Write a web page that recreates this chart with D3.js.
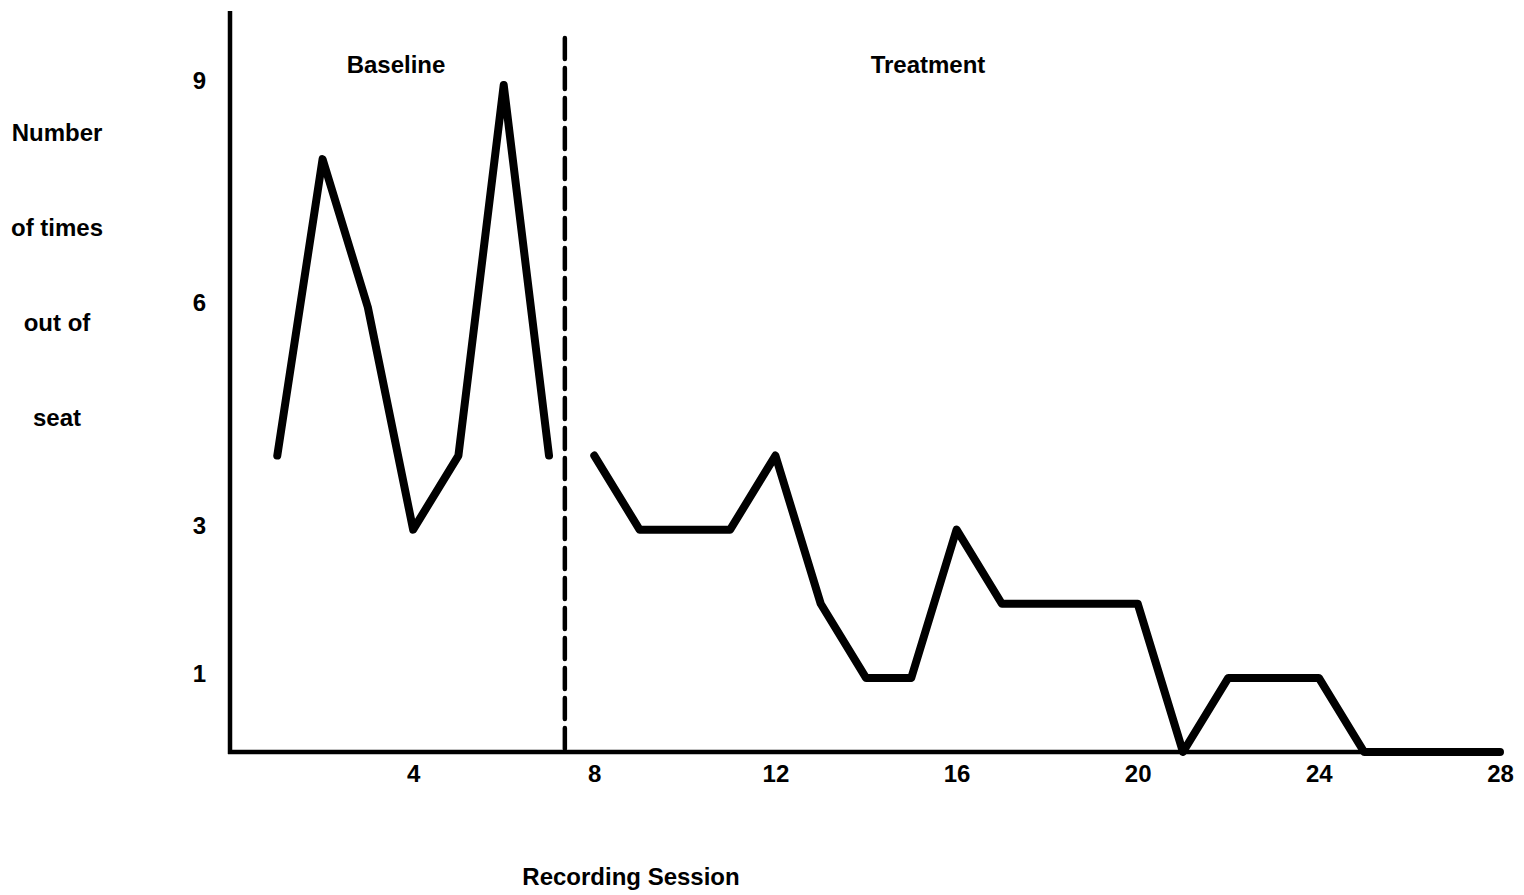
<!DOCTYPE html>
<html>
<head>
<meta charset="utf-8">
<script src="https://cdn.jsdelivr.net/npm/d3@7"></script>
<style>
  body { margin: 0; background: #fff; }
  text { font-family: "Liberation Sans", Arial, Helvetica, sans-serif; font-weight: bold; fill: #000; }
</style>
</head>
<body>
<div id="chart"></div>
<script>
// sessions and counts
var baselineSessions = [1, 2, 3, 4, 5, 6, 7];
var baselineValues   = [4, 8, 6, 3, 4, 9, 4];
var treatmentSessions = [8, 9, 10, 11, 12, 13, 14, 15, 16, 17, 18, 19, 20, 21, 22, 23, 24, 25, 26, 27, 28];
var treatmentValues   = [4, 3, 3, 3, 4, 2, 1, 1, 3, 2, 2, 2, 2, 0, 1, 1, 1, 0, 0, 0, 0];
var xTicks = [4, 8, 12, 16, 20, 24, 28];
var yTicks = [1, 3, 6, 9];
var phaseChange = 7.35;
var yLabelLines = ["Number", "of times", "out of", "seat"];

var width = 1524, height = 895;
var fontSize = "24px";

var svg = d3.select("#chart").append("svg")
  .attr("width", width)
  .attr("height", height);

var x = d3.scaleLinear().domain([0, 28]).range([232, 1500]);
var y = d3.scaleLinear().domain([0, 9]).range([752, 85]);

// axes (no tick marks, only labels)
var xAxis = d3.axisBottom(x).tickValues(xTicks).tickSize(0).tickPadding(13);
var yAxis = d3.axisLeft(y).tickValues(yTicks).tickSize(0).tickPadding(26);

svg.append("g")
  .attr("class", "x axis")
  .attr("transform", "translate(0," + y(0) + ")")
  .call(xAxis)
  .call(function(g) { g.select(".domain").remove(); })
  .selectAll("text")
  .style("font-size", fontSize)
  .style("font-family", "Liberation Sans, Arial, sans-serif")
  .style("font-weight", "bold");

svg.append("g")
  .attr("class", "y axis")
  .attr("transform", "translate(" + x(0) + ",0)")
  .call(yAxis)
  .call(function(g) { g.select(".domain").remove(); })
  .selectAll("text")
  .attr("dy", "0.15em")
  .style("font-size", fontSize)
  .style("font-family", "Liberation Sans, Arial, sans-serif")
  .style("font-weight", "bold");

// axis lines
svg.append("line")
  .attr("x1", x(0) - 2).attr("x2", x(0) - 2)
  .attr("y1", y(10)).attr("y2", y(0) + 2)
  .attr("stroke", "#000").attr("stroke-width", 4.5);

svg.append("line")
  .attr("x1", x(0) - 4).attr("x2", x(28))
  .attr("y1", y(0)).attr("y2", y(0))
  .attr("stroke", "#000").attr("stroke-width", 4.5);

// phase change line
svg.append("line")
  .attr("x1", x(phaseChange)).attr("x2", x(phaseChange))
  .attr("y1", 38).attr("y2", y(0))
  .attr("stroke", "#000")
  .attr("stroke-width", 4.5)
  .attr("stroke-dasharray", "21,9")
  .attr("stroke-linecap", "round");

var line = d3.line()
  .x(function(d) { return x(d[0]); })
  .y(function(d) { return y(d[1]); });

var baseline = baselineSessions.map(function(s, i) { return [s, baselineValues[i]]; });
var treatment = treatmentSessions.map(function(s, i) { return [s, treatmentValues[i]]; });

[baseline, treatment].forEach(function(data) {
  svg.append("path")
    .datum(data)
    .attr("d", line)
    .attr("fill", "none")
    .attr("stroke", "#000")
    .attr("stroke-width", 8)
    .attr("stroke-linejoin", "round")
    .attr("stroke-linecap", "round");
});

// phase labels
svg.append("text")
  .attr("x", 396).attr("y", 73)
  .style("text-anchor", "middle")
  .style("font-size", fontSize)
  .text("Baseline");

svg.append("text")
  .attr("x", 928).attr("y", 73)
  .style("text-anchor", "middle")
  .style("font-size", fontSize)
  .text("Treatment");

// y label, stacked lines
svg.selectAll(".ylabel")
  .data(yLabelLines)
  .enter().append("text")
  .attr("class", "ylabel")
  .attr("x", 57)
  .attr("y", function(d, i) { return 141 + i * 95; })
  .style("text-anchor", "middle")
  .style("font-size", fontSize)
  .text(function(d) { return d; });

svg.append("text")
  .attr("x", 631).attr("y", 885)
  .style("text-anchor", "middle")
  .style("font-size", fontSize)
  .text("Recording Session");
</script>
</body>
</html>
